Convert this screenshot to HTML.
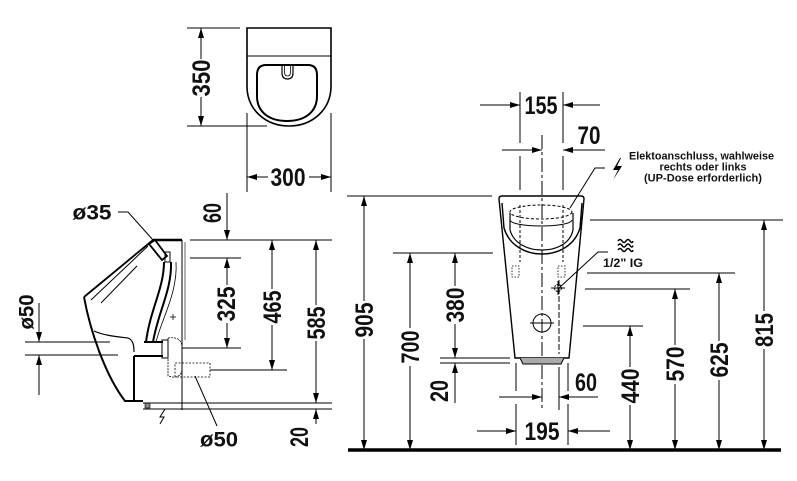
<!DOCTYPE html>
<html><head><meta charset="utf-8"><style>
html,body{margin:0;padding:0;background:#fff;}
svg{display:block;}
text{font-family:"Liberation Sans",Arial,sans-serif;font-weight:bold;fill:#111;}
</style></head><body>
<svg width="797" height="481" viewBox="0 0 797 481" xmlns="http://www.w3.org/2000/svg">
<defs><marker id="a" viewBox="0 0 10 6" refX="10" refY="3" markerWidth="10" markerHeight="6" markerUnits="userSpaceOnUse" orient="auto"><path d="M0,0L10,3L0,6z" fill="#000"/></marker></defs>
<g stroke="#000" stroke-width="1" fill="none">
<!-- TOP VIEW -->
<path d="M247,28H331V86C331,110 312,126 289,126C266,126 247,110 247,86Z" stroke-width="1.6"/>
<line x1="247" y1="56" x2="331" y2="56"/>
<path d="M266,65H308Q317,65 317,75V96C317,112 305,121 287,121C269,121 257,112 257,96V75Q257,65 266,65Z" stroke-width="2"/>
<path d="M282,66V73Q282,79 287.5,79Q293,79 293,73V66" stroke-width="1.2"/>
<path d="M284.5,66V72Q284.5,76 287.5,76Q290.5,76 290.5,72V66" stroke-width="0.8"/>
<line x1="187" y1="28" x2="240" y2="28"/>
<line x1="187" y1="126" x2="267" y2="126"/>
<line x1="201" y1="59" x2="201" y2="28" marker-end="url(#a)"/>
<line x1="201" y1="97" x2="201" y2="126" marker-end="url(#a)"/>
<line x1="247" y1="113" x2="247" y2="192"/>
<line x1="331" y1="113" x2="331" y2="192"/>
<line x1="268" y1="177" x2="247" y2="177" marker-end="url(#a)"/>
<line x1="309" y1="177" x2="331" y2="177" marker-end="url(#a)"/>

<!-- SIDE VIEW -->
<line x1="153" y1="240" x2="182" y2="240" stroke-width="2.4"/>
<line x1="153" y1="240" x2="84" y2="297" stroke-width="1.8"/>
<path d="M84,297C90,330 105,375 125,401L143,401" stroke-width="2"/>
<line x1="148" y1="246" x2="91" y2="300"/>
<line x1="137" y1="266" x2="101" y2="303"/>
<path d="M94,331C105,336 120,337 128,338C133,340 134,345 134,352" stroke-width="1.2"/>
<path d="M134,356V400M134,356H163" stroke-width="2"/>
<path d="M149,244L155,240L167,256L162,260Z" stroke-width="1.8"/>
<rect x="165" y="252" width="5" height="10" stroke-width="1"/>
<path d="M171,262C172,290 158,312 153,342" stroke-width="2"/>
<path d="M164,262C164,288 150,310 146,342" stroke-width="2"/>
<line x1="144" y1="342" x2="163" y2="342" stroke-width="2"/>
<path d="M176,262C178,292 162,318 156,342" stroke-width="0.8"/>
<rect x="162" y="340" width="6" height="18" stroke-width="1"/>
<path d="M168,338Q182,336 182,348V368Q182,378 172,377L168,376Z" stroke-width="0.8" stroke-dasharray="2,1"/>
<rect x="175" y="363" width="35" height="14" stroke-width="0.8" stroke-dasharray="2,1.5"/>
<path d="M170,317h6M173,314v6" stroke-width="0.8"/>
<line x1="182" y1="240" x2="182" y2="410"/>
<line x1="185" y1="242" x2="185" y2="340" stroke-width="0.6"/>
<rect x="145" y="403" width="5" height="5" fill="#888" stroke-width="0.6"/>
<path d="M165,409L160,417L164,417L160,424" stroke-width="1"/>
<!-- side dims -->
<line x1="227" y1="193" x2="227" y2="240" marker-end="url(#a)"/>
<line x1="190" y1="240" x2="332" y2="240"/>
<line x1="190" y1="258" x2="241" y2="258"/>
<line x1="227" y1="285" x2="227" y2="258" marker-end="url(#a)"/>
<line x1="227" y1="323" x2="227" y2="348" marker-end="url(#a)"/>
<line x1="182" y1="348" x2="241" y2="348"/>
<line x1="272" y1="289" x2="272" y2="240" marker-end="url(#a)"/>
<line x1="272" y1="325" x2="272" y2="370" marker-end="url(#a)"/>
<line x1="210" y1="370" x2="287" y2="370"/>
<line x1="316" y1="305" x2="316" y2="240" marker-end="url(#a)"/>
<line x1="316" y1="341" x2="316" y2="403" marker-end="url(#a)"/>
<line x1="143" y1="403" x2="332" y2="403"/>
<line x1="143" y1="409" x2="332" y2="409"/>
<line x1="316" y1="424" x2="316" y2="409" marker-end="url(#a)"/>
<line x1="217" y1="426" x2="195" y2="376"/>
<line x1="39" y1="303" x2="39" y2="342" marker-end="url(#a)"/>
<line x1="25" y1="342" x2="110" y2="342"/>
<line x1="25" y1="355" x2="118" y2="355"/>
<line x1="39" y1="395" x2="39" y2="355" marker-end="url(#a)"/>
<polyline points="118,212 128,212 153,240"/>

<!-- FRONT VIEW -->
<line x1="520" y1="92" x2="520" y2="143"/><line x1="520" y1="156" x2="520" y2="190"/>
<line x1="563" y1="92" x2="563" y2="143"/><line x1="563" y1="156" x2="563" y2="190"/>
<line x1="542" y1="135" x2="542" y2="410" stroke-dasharray="14,3,3,3"/>
<line x1="480" y1="105" x2="520" y2="105" marker-end="url(#a)"/>
<line x1="600" y1="105" x2="563" y2="105" marker-end="url(#a)"/>
<line x1="502" y1="150" x2="542" y2="150" marker-end="url(#a)"/>
<line x1="605" y1="150" x2="563" y2="150" marker-end="url(#a)"/>
<path d="M499,199Q499,196 502,196H581Q584,196 584,199L569,358H515Z" stroke-width="1.4"/>
<path d="M520,358L523,364H561L564,358" fill="#aaa" stroke-width="1"/>
<path d="M502,203L504,228C509,245 525,254 542,254C559,254 575,245 580,228L582,203" stroke-width="1.4"/>
<path d="M510,213V230C514,244 528,250 542,250C556,250 570,244 573,230V213" stroke-width="1.2"/>
<ellipse cx="541" cy="212" rx="31" ry="7" stroke-dasharray="3,2"/>
<path d="M510,220C512,228 570,228 572,220" stroke-width="1"/>
<line x1="520" y1="205" x2="520" y2="262" stroke-dasharray="3,2"/>
<line x1="563" y1="205" x2="563" y2="262" stroke-dasharray="3,2"/>
<rect x="512" y="266" width="7" height="11" stroke-width="0.8" stroke-dasharray="1.5,1.5"/>
<rect x="558" y="266" width="7" height="11" stroke-width="0.8" stroke-dasharray="1.5,1.5"/>
<line x1="559" y1="280" x2="559" y2="354" stroke-dasharray="6,2"/>
<circle cx="558" cy="288" r="3.5" stroke-dasharray="2,1"/>
<line x1="551" y1="288" x2="565" y2="288"/><line x1="558" y1="281" x2="558" y2="295"/>
<circle cx="542" cy="323" r="9"/>
<line x1="530" y1="323" x2="554" y2="323"/>
<line x1="516" y1="363" x2="516" y2="391"/><line x1="516" y1="404" x2="516" y2="445"/>
<line x1="568" y1="363" x2="568" y2="391"/><line x1="568" y1="404" x2="568" y2="445"/>
<line x1="559" y1="367" x2="559" y2="410"/>
<line x1="499" y1="397" x2="542" y2="397" marker-end="url(#a)"/>
<line x1="598" y1="397" x2="559" y2="397" marker-end="url(#a)"/>
<line x1="477" y1="431" x2="516" y2="431" marker-end="url(#a)"/>
<line x1="610" y1="431" x2="568" y2="431" marker-end="url(#a)"/>
<!-- front left dims -->
<line x1="347" y1="196" x2="492" y2="196"/>
<line x1="364" y1="301" x2="364" y2="196" marker-end="url(#a)"/>
<line x1="364" y1="339" x2="364" y2="450" marker-end="url(#a)"/>
<line x1="393" y1="253" x2="493" y2="253"/>
<line x1="410" y1="328" x2="410" y2="253" marker-end="url(#a)"/>
<line x1="410" y1="366" x2="410" y2="450" marker-end="url(#a)"/>
<line x1="455" y1="286" x2="455" y2="253" marker-end="url(#a)"/>
<line x1="455" y1="324" x2="455" y2="358" marker-end="url(#a)"/>
<line x1="440" y1="358" x2="510" y2="358"/>
<line x1="440" y1="363" x2="510" y2="363"/>
<line x1="455" y1="403" x2="455" y2="363" marker-end="url(#a)"/>
<!-- front right dims -->
<line x1="590" y1="220" x2="783" y2="220"/>
<line x1="764" y1="311" x2="764" y2="220" marker-end="url(#a)"/>
<line x1="764" y1="349" x2="764" y2="450" marker-end="url(#a)"/>
<line x1="587" y1="273" x2="735" y2="273"/>
<line x1="719" y1="341" x2="719" y2="273" marker-end="url(#a)"/>
<line x1="719" y1="380" x2="719" y2="450" marker-end="url(#a)"/>
<line x1="585" y1="289" x2="690" y2="289"/>
<line x1="675" y1="345" x2="675" y2="289" marker-end="url(#a)"/>
<line x1="675" y1="384" x2="675" y2="450" marker-end="url(#a)"/>
<line x1="583" y1="326" x2="643" y2="326"/>
<line x1="630" y1="367" x2="630" y2="326" marker-end="url(#a)"/>
<line x1="630" y1="405" x2="630" y2="450" marker-end="url(#a)"/>
<line x1="348" y1="450" x2="781" y2="450" stroke-width="3.5"/>
<!-- leaders & symbols -->
<polyline points="605,168 595,168 570,208"/>
<polyline points="608,252 598,252 559,288"/>
<path d="M618,241q2,-3 4,0t4,0t4,0t3,0M618,245.5q2,-3 4,0t4,0t4,0t3,0M618,250q2,-3 4,0t4,0t4,0t3,0" stroke-width="1.5"/>
</g>
<path d="M620,158L613,170L618,170L613,180L622,166L617,166L621,158Z" fill="#000"/>

<g font-size="25">
<text x="288" y="186" text-anchor="middle" textLength="35" lengthAdjust="spacingAndGlyphs">300</text>
<text x="541" y="114" text-anchor="middle" textLength="33" lengthAdjust="spacingAndGlyphs">155</text>
<text x="589" y="144" text-anchor="middle" textLength="23" lengthAdjust="spacingAndGlyphs">70</text>
<text x="586" y="391" text-anchor="middle" textLength="22" lengthAdjust="spacingAndGlyphs">60</text>
<text x="542" y="440" text-anchor="middle" textLength="35" lengthAdjust="spacingAndGlyphs">195</text>
<text transform="translate(201,78) rotate(-90)" x="0" y="9" text-anchor="middle" textLength="37" lengthAdjust="spacingAndGlyphs">350</text>
<text transform="translate(212,213) rotate(-90)" x="0" y="9" text-anchor="middle" textLength="20" lengthAdjust="spacingAndGlyphs">60</text>
<text transform="translate(226,304) rotate(-90)" x="0" y="9" text-anchor="middle" textLength="35" lengthAdjust="spacingAndGlyphs">325</text>
<text transform="translate(272,307) rotate(-90)" x="0" y="9" text-anchor="middle" textLength="33" lengthAdjust="spacingAndGlyphs">465</text>
<text transform="translate(316,323) rotate(-90)" x="0" y="9" text-anchor="middle" textLength="33" lengthAdjust="spacingAndGlyphs">585</text>
<text transform="translate(299,437) rotate(-90)" x="0" y="9" text-anchor="middle" textLength="20" lengthAdjust="spacingAndGlyphs">20</text>
<text transform="translate(364,320) rotate(-90)" x="0" y="9" text-anchor="middle" textLength="35" lengthAdjust="spacingAndGlyphs">905</text>
<text transform="translate(410,347) rotate(-90)" x="0" y="9" text-anchor="middle" textLength="33" lengthAdjust="spacingAndGlyphs">700</text>
<text transform="translate(455,305) rotate(-90)" x="0" y="9" text-anchor="middle" textLength="35" lengthAdjust="spacingAndGlyphs">380</text>
<text transform="translate(439,391) rotate(-90)" x="0" y="9" text-anchor="middle" textLength="22" lengthAdjust="spacingAndGlyphs">20</text>
<text transform="translate(764,330) rotate(-90)" x="0" y="9" text-anchor="middle" textLength="34" lengthAdjust="spacingAndGlyphs">815</text>
<text transform="translate(719,360) rotate(-90)" x="0" y="9" text-anchor="middle" textLength="35" lengthAdjust="spacingAndGlyphs">625</text>
<text transform="translate(675,364) rotate(-90)" x="0" y="9" text-anchor="middle" textLength="35" lengthAdjust="spacingAndGlyphs">570</text>
<text transform="translate(630,386) rotate(-90)" x="0" y="9" text-anchor="middle" textLength="35" lengthAdjust="spacingAndGlyphs">440</text>
</g>
<g font-size="21">
<text x="92" y="219.5" text-anchor="middle" textLength="39" lengthAdjust="spacingAndGlyphs">ø35</text>
<text x="219" y="446.5" text-anchor="middle" textLength="38" lengthAdjust="spacingAndGlyphs">ø50</text>
<text transform="translate(26,312) rotate(-90)" x="0" y="7.5" text-anchor="middle" textLength="35" lengthAdjust="spacingAndGlyphs">ø50</text>
</g>
<g font-size="11" text-anchor="middle">
<text x="701.5" y="159.5" textLength="145" lengthAdjust="spacingAndGlyphs">Elektoanschluss, wahlweise</text>
<text x="703" y="170.5" textLength="87" lengthAdjust="spacingAndGlyphs">rechts oder links</text>
<text x="703" y="181.5" textLength="118" lengthAdjust="spacingAndGlyphs">(UP-Dose erforderlich)</text>
</g>
<text x="603" y="267" font-size="12" textLength="40" lengthAdjust="spacingAndGlyphs">1/2" IG</text>
</svg>
</body></html>
